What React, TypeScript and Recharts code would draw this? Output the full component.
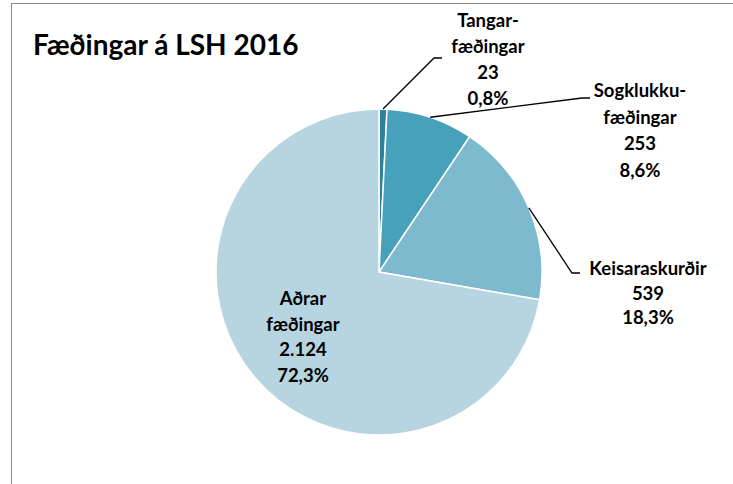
import React from "react";
import { PieChart, Pie, Cell } from "recharts";

const categories = ["Tangar-\nfæðingar", "Sogklukku-\nfæðingar", "Keisaraskurðir", "Aðrar\nfæðingar"];
const counts = [23, 253, 539, 2124];
const countLabels = ["23", "253", "539", "2.124"];
const percentLabels = ["0,8%", "8,6%", "18,3%", "72,3%"];

const colors = ["#2E8199", "#48A1BB", "#7EBACE", "#B6D5E0"];

// label layout (relative to pie center): elbow point, text anchor, line height
const labelLayout = [
  { elbow: [55, -214], text: [109, -245], lh: 26, leader: true },
  { elbow: [203, -174], text: [261, -175], lh: 26.7, leader: true },
  { elbow: [193, 1], text: [269, 3], lh: 24.5, leader: true },
  { elbow: null, text: [-76, 33], lh: 25.7, leader: false },
];

const data = categories.map((c, i) => ({
  name: c,
  value: counts[i],
  countLabel: countLabels[i],
  pctLabel: percentLabels[i],
}));

const FONT = "Lato, 'Open Sans', sans-serif";
const RAD = Math.PI / 180;

const renderLabel = (props: any) => {
  const { cx, cy, midAngle, outerRadius, index } = props;
  const lay = labelLayout[index];
  const d = data[index];
  const lines = [...d.name.split("\n"), d.countLabel, d.pctLabel];
  const tx = cx + lay.text[0];
  const ty = cy + lay.text[1];
  let leader = null;
  if (lay.leader && lay.elbow) {
    const sx = cx + outerRadius * Math.cos(-midAngle * RAD);
    const sy = cy + outerRadius * Math.sin(-midAngle * RAD);
    const ex = cx + lay.elbow[0];
    const ey = cy + lay.elbow[1];
    leader = (
      <polyline
        points={`${sx},${sy} ${ex},${ey} ${ex + 8},${ey}`}
        fill="none"
        stroke="#000"
        strokeWidth={1.3}
      />
    );
  }
  return (
    <g key={`lbl-${index}`}>
      {leader}
      <text
        x={tx}
        y={ty}
        textAnchor="middle"
        fontFamily={FONT}
        fontWeight={700}
        fontSize={18.5}
        fill="#000"
      >
        {lines.map((l, i) => (
          <tspan key={i} x={tx} y={ty + i * lay.lh}>
            {l}
          </tspan>
        ))}
      </text>
    </g>
  );
};

export default function App() {
  return (
    <div style={{ position: "absolute", left: 0, top: 0, width: 733, height: 484, background: "#fff" }}>
      <div
        style={{
          position: "absolute",
          left: 11,
          top: 3,
          width: 740,
          height: 500,
          borderLeft: "1.5px solid #8c8c8c",
          borderTop: "1.5px solid #8c8c8c",
          boxSizing: "border-box",
        }}
      />
      <svg width={733} height={484} style={{ position: "absolute", left: 0, top: 0 }}>
        <text x={33} y={55} fontFamily={FONT} fontWeight={700} fontSize={28} fill="#000">
          Fæðingar á LSH 2016
        </text>
      </svg>
      <div style={{ position: "absolute", left: 0, top: 0 }}>
        <PieChart width={733} height={484}>
          <Pie
            data={data}
            dataKey="value"
            nameKey="name"
            cx={374}
            cy={267}
            outerRadius={163}
            startAngle={90}
            endAngle={-270}
            stroke="#fff"
            strokeWidth={1.5}
            label={renderLabel}
            labelLine={false}
            isAnimationActive={false}
          >
            {data.map((_, i) => (
              <Cell key={i} fill={colors[i]} />
            ))}
          </Pie>
        </PieChart>
      </div>
    </div>
  );
}
